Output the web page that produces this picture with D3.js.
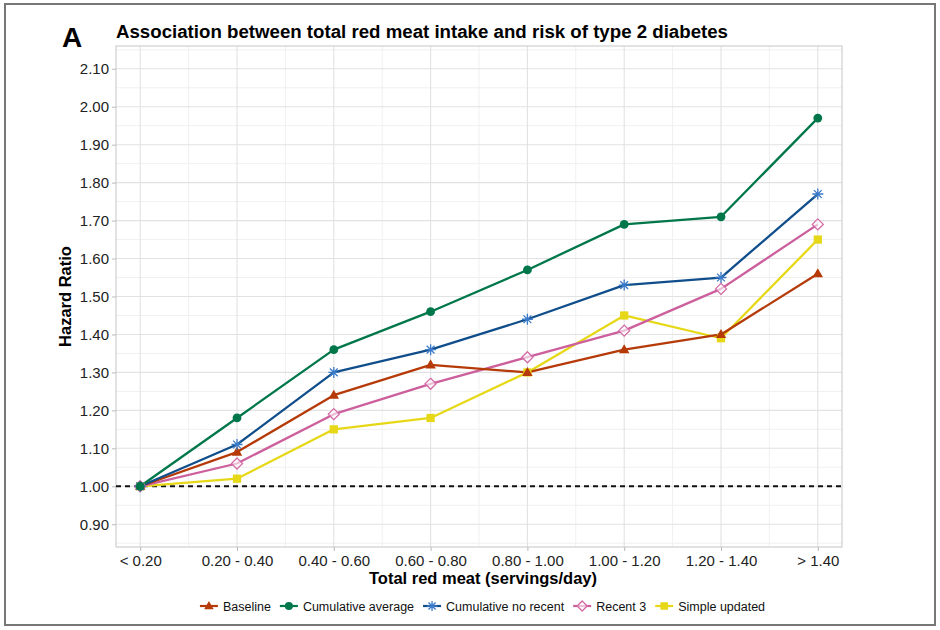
<!DOCTYPE html>
<html><head><meta charset="utf-8">
<script src="https://cdn.jsdelivr.net/npm/d3@7"></script>
<style>body{margin:0;background:#fff;font-family:"Liberation Sans",Arial,sans-serif}</style>
</head><body><svg id="c" width="940" height="630"></svg>
<script>
const categories = ["< 0.20","0.20 - 0.40","0.40 - 0.60","0.60 - 0.80","0.80 - 1.00","1.00 - 1.20","1.20 - 1.40","> 1.40"];
const seriesNames = ["Baseline","Cumulative average","Cumulative no recent","Recent 3","Simple updated"];
const baseline = [1.00,1.09,1.24,1.32,1.30,1.36,1.40,1.56];
const cumulativeAverage = [1.00,1.18,1.36,1.46,1.57,1.69,1.71,1.97];
const cumulativeNoRecent = [1.00,1.11,1.30,1.36,1.44,1.53,1.55,1.77];
const recent3 = [1.00,1.06,1.19,1.27,1.34,1.41,1.52,1.69];
const simpleUpdated = [1.00,1.02,1.15,1.18,1.30,1.45,1.39,1.65];
const yTicks = [0.90,1.00,1.10,1.20,1.30,1.40,1.50,1.60,1.70,1.80,1.90,2.00,2.10];

const colors = ["#b53a08","#00774a","#104e8b","#cc5f9c","#e6d817"];
const markerColors = ["#b53a08","#00774a","#3a7ac8","#d46aa6","#e6d817"];
const shapes = ["triangle","circle","asterisk","diamond","square"];
const series = [baseline,cumulativeAverage,cumulativeNoRecent,recent3,simpleUpdated];

const svg = d3.select("#c");
svg.append("rect").attr("x",5).attr("y",4).attr("width",930).attr("height",621)
  .attr("fill","none").attr("stroke","#777").attr("stroke-width",2);

const L=116,R=842,T=46,B=547;
const x = d3.scaleLinear().domain([-0.25,7.25]).range([L,R]);
const y = d3.scaleLinear().domain([0.84,2.16]).range([B,T]);

const g = svg.append("g");
const minorY = d3.range(0.85,2.16,0.1);
g.selectAll(".my").data(minorY).join("line").attr("x1",L).attr("x2",R)
  .attr("y1",d=>y(d)).attr("y2",d=>y(d)).attr("stroke","#f0f0f0").attr("stroke-width",1);
const minorX = d3.range(0.5,7,1);
g.selectAll(".mx").data(minorX).join("line").attr("y1",T).attr("y2",B)
  .attr("x1",d=>x(d)).attr("x2",d=>x(d)).attr("stroke","#f0f0f0").attr("stroke-width",1);
g.selectAll(".gy").data(yTicks).join("line").attr("x1",L).attr("x2",R)
  .attr("y1",d=>y(d)).attr("y2",d=>y(d)).attr("stroke","#e2e2e2").attr("stroke-width",1.1);
g.selectAll(".gx").data(categories).join("line").attr("y1",T).attr("y2",B)
  .attr("x1",(d,i)=>x(i)).attr("x2",(d,i)=>x(i)).attr("stroke","#e2e2e2").attr("stroke-width",1.1);
g.append("rect").attr("x",L).attr("y",T).attr("width",R-L).attr("height",B-T)
  .attr("fill","none").attr("stroke","#cfcfcf").attr("stroke-width",1.2);

const yAxis = d3.axisLeft(y).tickValues(yTicks).tickFormat(d3.format(".2f")).tickSize(4).tickPadding(3);
const ya = svg.append("g").attr("transform",`translate(${L},0)`).call(yAxis);
ya.select(".domain").remove();
ya.selectAll(".tick line").attr("stroke","#bbb");
ya.selectAll("text").attr("font-size",15).attr("fill","#222").attr("font-family","Liberation Sans, Arial");

const xAxis = d3.axisBottom(x).tickValues(d3.range(categories.length)).tickFormat(i=>categories[i]).tickSize(4).tickPadding(4);
const xa = svg.append("g").attr("transform",`translate(0,${B})`).call(xAxis);
xa.select(".domain").remove();
xa.selectAll(".tick line").attr("stroke","#bbb");
xa.selectAll("text").attr("font-size",15).attr("fill","#222").attr("font-family","Liberation Sans, Arial");

svg.append("line").attr("x1",L).attr("x2",R).attr("y1",y(1)).attr("y2",y(1))
  .attr("stroke","#111").attr("stroke-width",1.8).attr("stroke-dasharray","5,4");

function marker(sel, shape, cx, cy, color, s){
  if(shape==="triangle"){
    sel.append("path").attr("d",`M${cx},${cy-s}L${cx+s*0.95},${cy+s*0.65}L${cx-s*0.95},${cy+s*0.65}Z`).attr("fill",color);
  } else if(shape==="circle"){
    sel.append("circle").attr("cx",cx).attr("cy",cy).attr("r",s*0.8).attr("fill",color);
  } else if(shape==="square"){
    sel.append("rect").attr("x",cx-s*0.75).attr("y",cy-s*0.75).attr("width",s*1.5).attr("height",s*1.5).attr("fill",color);
  } else if(shape==="diamond"){
    sel.append("path").attr("d",`M${cx},${cy-s}L${cx+s},${cy}L${cx},${cy+s}L${cx-s},${cy}Z`)
      .attr("fill","#fff").attr("fill-opacity",0.6).attr("stroke",color).attr("stroke-width",1.3);
  } else if(shape==="asterisk"){
    const p=[];
    for(let k=0;k<4;k++){const a=k*Math.PI/4;p.push(`M${cx-s*Math.cos(a)},${cy-s*Math.sin(a)}L${cx+s*Math.cos(a)},${cy+s*Math.sin(a)}`);}
    sel.append("path").attr("d",p.join("")).attr("stroke",color).attr("stroke-width",1.3).attr("fill","none");
  }
}

const line = d3.line().x((d,i)=>x(i)).y(d=>y(d));
const order = [4,3,0,2,1];
order.forEach(si=>{
  svg.append("path").datum(series[si]).attr("d",line).attr("fill","none")
    .attr("stroke",colors[si]).attr("stroke-width",2.3).attr("stroke-linejoin","round");
});
order.forEach(si=>{
  const mg = svg.append("g");
  series[si].forEach((v,i)=>marker(mg,shapes[si],x(i),y(v),markerColors[si],5.5));
});

svg.append("text").attr("x",62).attr("y",47).attr("font-size",28).attr("font-weight","bold").attr("fill","#000").text("A");
svg.append("text").attr("x",116).attr("y",38).attr("font-size",18.7).attr("font-weight","bold").attr("fill","#000")
  .attr("textLength",612).attr("lengthAdjust","spacingAndGlyphs")
  .text("Association between total red meat intake and risk of type 2 diabetes");
svg.append("text").attr("transform",`translate(71,${(T+B)/2}) rotate(-90)`).attr("text-anchor","middle")
  .attr("font-size",16.5).attr("font-weight","bold").attr("fill","#000").text("Hazard Ratio");
svg.append("text").attr("x",(L+R)/2+4).attr("y",584).attr("text-anchor","middle")
  .attr("font-size",16.5).attr("font-weight","bold").attr("fill","#000").text("Total red meat (servings/day)");

const lg = svg.append("g");
let items=[]; let cur=0;
const tmp = svg.append("text").attr("font-size",12.5);
seriesNames.forEach((n,i)=>{
  tmp.text(n); const w=tmp.node().getComputedTextLength();
  items.push({n,i,x:cur,w}); cur+=22+w+10;
});
tmp.remove();
const total = cur-10;
const lx0 = (L+R)/2 - total/2 + 3;
const ly = 606;
items.forEach(it=>{
  const gx = lx0+it.x;
  lg.append("line").attr("x1",gx).attr("x2",gx+18).attr("y1",ly).attr("y2",ly).attr("stroke",colors[it.i]).attr("stroke-width",2.2);
  marker(lg,shapes[it.i],gx+9,ly,markerColors[it.i],5);
  lg.append("text").attr("x",gx+23).attr("y",ly+4.5).attr("font-size",12.5).attr("fill","#111").text(it.n);
});
</script></body></html>
